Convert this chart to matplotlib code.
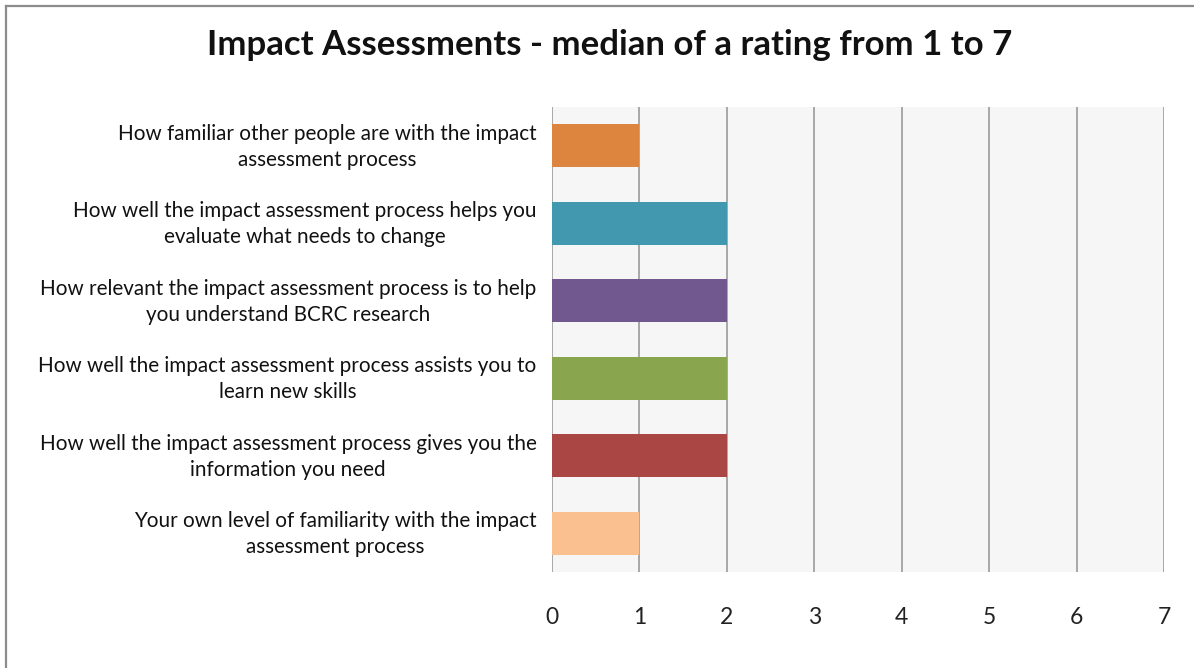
import matplotlib
matplotlib.use("Agg")
import matplotlib.pyplot as plt
from matplotlib.lines import Line2D
from matplotlib.transforms import ScaledTranslation

categories = [
    "How familiar other people are with the impact\nassessment process",
    "How well the impact assessment process helps you\nevaluate what needs to change",
    "How relevant the impact assessment process is to help\nyou understand BCRC research",
    "How well the impact assessment process assists you to\nlearn new skills",
    "How well the impact assessment process gives you the\ninformation you need",
    "Your own level of familiarity with the impact\nassessment process",
]
values = [1, 2, 2, 2, 2, 1]
colors = ["#DD843F", "#4198AF", "#71588F", "#89A54E", "#AA4643", "#FAC090"]
xticks = [0, 1, 2, 3, 4, 5, 6, 7]
title = "Impact Assessments - median of a rating from 1 to 7"

plt.rcParams['font.family'] = ['Lato', 'DejaVu Sans']

fig = plt.figure(figsize=(11.94, 6.68), dpi=100)
W, H = 1194, 668
ax = fig.add_axes([552 / W, 1 - 572 / H, (1164 - 552) / W, (572 - 107) / H])
ax.set_facecolor("#F6F6F6")

ypos = list(range(len(categories)))
ax.barh(ypos, values, height=0.56, color=colors, zorder=3)
ax.set_ylim(len(categories) - 0.5, -0.5)
ax.set_xlim(0, 7)
ax.set_xticks(xticks)
ax.set_xticklabels([str(t) for t in xticks], fontsize=16.5, color="#222222")
ax.set_yticks(ypos)
ax.set_yticklabels(categories, fontsize=14.9, ha="right", multialignment="center",
                   linespacing=1.36, color="#111111")
ax.tick_params(axis="x", length=0, pad=25)
ax.tick_params(axis="y", length=0, pad=11)
shift = ScaledTranslation(0, 4 / 100, fig.dpi_scale_trans)
for lab in ax.get_yticklabels():
    lab.set_transform(lab.get_transform() + shift)
for t in xticks:
    ax.axvline(t, color="#9A9A9A", lw=1.2, zorder=2)
for s in ax.spines.values():
    s.set_visible(False)

fig.text(610 / W, 1 - 45 / H, title, ha="center", va="center", fontsize=25,
         fontweight="bold", color="#111111")

# outer border (top and left edges)
fig.add_artist(Line2D([6 / W, 1.0], [1 - 5.5 / H, 1 - 5.5 / H], transform=fig.transFigure,
                      color="#8C8C8C", lw=1.6))
fig.add_artist(Line2D([6 / W, 6 / W], [0.0, 1 - 5.5 / H], transform=fig.transFigure,
                      color="#8C8C8C", lw=1.6))

fig.savefig("out.png", dpi=100)
